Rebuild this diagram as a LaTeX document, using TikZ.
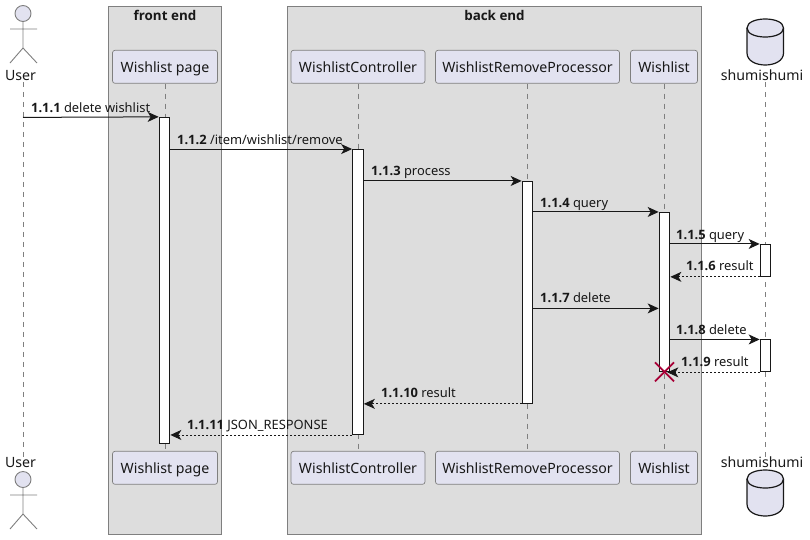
\documentclass[tikz,border=0pt]{standalone}
\usepackage{fontspec}
\setmainfont{Noto Sans}
\newfontfamily\boldfam{Open Sans}
\usetikzlibrary{arrows.meta}
\definecolor{partfill}{HTML}{E2E2F0}
\definecolor{boxfill}{HTML}{DDDDDD}
\definecolor{edgegray}{HTML}{7F7F7F}
\definecolor{inkdark}{HTML}{181818}
\definecolor{crossred}{HTML}{A80036}
\newcommand{\msgnum}[1]{{\boldfam\bfseries #1}}
\begin{document}
\begin{tikzpicture}[x=1pt,y=-1pt]
    \tikzstyle{groupbox} = [rectangle, draw=edgegray, fill=boxfill, line width=.9pt, inner sep=0pt]
    \tikzstyle{grouptitle} = [font=\fontsize{13.4}{15}\selectfont\boldfam\bfseries, text=inkdark, inner sep=0pt]
    \tikzstyle{partbox} = [rectangle, rounded corners=2.5pt, draw=edgegray, fill=partfill, line width=.7pt, font=\fontsize{14.15}{17}\selectfont, text=inkdark, minimum height=33pt, inner sep=0pt, text height=14pt, text depth=3pt]
    \tikzstyle{partname} = [font=\fontsize{14.15}{17}\selectfont, text=inkdark, inner sep=0pt]
    \tikzstyle{lifeline} = [draw=edgegray, line width=.7pt, dash pattern=on 5pt off 5pt]
    \tikzstyle{actbar} = [rectangle, draw=inkdark, fill=white, line width=.9pt, minimum width=10.8pt, inner sep=0pt]
    \tikzstyle{msgline} = [-{Stealth[length=11pt,width=10pt,inset=3pt]}, draw=inkdark, line width=1pt]
    \tikzstyle{retline} = [msgline, line width=.9pt, dash pattern=on 2pt off 2pt]
    \tikzstyle{msglabel} = [font=\fontsize{12.9}{15}\selectfont, text=inkdark, inner sep=0pt, anchor=base west]
    \tikzstyle{actorline} = [draw=edgegray, line width=.9pt]
    \tikzstyle{dbline} = [draw=inkdark, fill=partfill, line width=1.2pt]
    \useasboundingbox (0,0) rectangle (810,539);
    % groups
    \node[groupbox,minimum width=113pt,minimum height=528pt] (front) at (165,270.5) {};
    \node[groupbox,minimum width=414pt,minimum height=528pt] (back) at (494.5,270.5) {};
    \node[grouptitle] (fronttitle) at (165,15.5) {front end};
    \node[grouptitle] (backtitle) at (494.5,15.5) {back end};
    % participants
    \node[partname] (user) at (20.5,75.5) {User};
    \node[partname] (userb) at (20.5,462.5) {User};
    \node[partbox,minimum width=105pt] (page) at (165,66.8) {Wishlist page};
    \node[partbox,minimum width=105pt] (pageb) at (165,467.8) {Wishlist page};
    \node[partbox,minimum width=134pt] (ctrl) at (358,66.8) {WishlistController};
    \node[partbox,minimum width=134pt] (ctrlb) at (358,467.8) {WishlistController};
    \node[partbox,minimum width=184pt] (proc) at (527.5,66.8) {WishlistRemoveProcessor};
    \node[partbox,minimum width=184pt] (procb) at (527.5,467.8) {WishlistRemoveProcessor};
    \node[partbox,minimum width=67pt] (wish) at (664,66.8) {Wishlist};
    \node[partbox,minimum width=67pt] (wishb) at (664,467.8) {Wishlist};
    \node[partname] (shumi) at (762,75.5) {shumishumi};
    \node[partname] (shumib) at (762,462.5) {shumishumi};
    % actors
    \foreach \yy in {0,466} {
        \draw[actorline,fill=partfill] (23,13.5+\yy) circle (8pt);
        \draw[actorline] (23,21.5+\yy) -- (23,48+\yy) (10,29+\yy) -- (37,29+\yy)
            (10,63+\yy) -- (23,48+\yy) -- (37,63+\yy);
    }
    % databases
    \foreach \yy in {0,451} {
        \draw[dbline] (747,28+\yy) .. controls (747,16+\yy) and (783.5,16+\yy) .. (783.5,28+\yy)
            -- (783.5,53+\yy) .. controls (783.5,69+\yy) and (747,69+\yy) .. (747,53+\yy) -- cycle;
        \draw[dbline,fill=none] (747,28+\yy) .. controls (747,40+\yy) and (783.5,40+\yy) .. (783.5,28+\yy);
    }
    \coordinate (userstart) at (23,117.4);
    \coordinate (shumiline) at (765.5,117.4);
    \coordinate (q7) at (527.5,308.4);
    % lifelines
    \draw[lifeline] (userstart |- user.south) ++(0,1) -- (userstart |- userb.north);
    \draw[lifeline] (page.south) -- (pageb.north);
    \draw[lifeline] (ctrl.south) -- (ctrlb.north);
    \draw[lifeline] (proc.south) -- (procb.north);
    \draw[lifeline] (wish.south) -- (wishb.north);
    \draw[lifeline] (shumiline |- shumi.south) ++(0,1) -- (shumiline |- shumib.north);
    % activations
    \node[actbar,minimum height=326.4pt] (pagebar) at (164.5,280.5) {};
    \node[actbar,minimum height=285pt] (ctrlbar) at (358,292) {};
    \node[actbar,minimum height=222pt] (procbar) at (527.5,292.4) {};
    \node[actbar,minimum height=159pt] (wishbar) at (664.5,291.9) {};
    \node[actbar,minimum height=32pt] (shumibar) at (765.5,260.4) {};
    \node[actbar,minimum height=32pt] (shumibarb) at (765.5,355.9) {};
    % messages
    \draw[msgline] (userstart) -- (pagebar.north west);
    \draw[msgline] (pagebar.east |- ctrlbar.north) -- (ctrlbar.north west);
    \draw[msgline] (ctrlbar.east |- procbar.north) -- (procbar.north west);
    \draw[msgline] (procbar.east |- wishbar.north) -- (wishbar.north west);
    \draw[msgline] (wishbar.east |- shumibar.north) -- (shumibar.north west);
    \draw[retline] (shumibar.south west) -- (wishbar.east |- shumibar.south);
    \draw[msgline] (procbar.east |- q7) -- (wishbar.west |- q7);
    \draw[msgline] (wishbar.east |- shumibarb.north) -- (shumibarb.north west);
    \draw[retline] (shumibarb.south west) -- ([xshift=-3pt]wishbar.east |- shumibarb.south);
    \draw[retline] (procbar.south west) -- (ctrlbar.east |- procbar.south);
    \draw[retline] (ctrlbar.south west) -- (pagebar.east |- ctrlbar.south);
    % labels
    \node[msglabel] (m1) at (31,112) {\msgnum{1.1.1} delete wishlist};
    \node[msglabel] (m2) at (177,144) {\msgnum{1.1.2} /item/wishlist/remove};
    \node[msglabel] (m3) at (371,175) {\msgnum{1.1.3} process};
    \node[msglabel] (m4) at (540,207) {\msgnum{1.1.4} query};
    \node[msglabel] (m5) at (676,239) {\msgnum{1.1.5} query};
    \node[msglabel] (m6) at (686,270) {\msgnum{1.1.6} result};
    \node[msglabel] (m7) at (540,302) {\msgnum{1.1.7} delete};
    \node[msglabel] (m8) at (676,334) {\msgnum{1.1.8} delete};
    \node[msglabel] (m9) at (681,366) {\msgnum{1.1.9} result};
    \node[msglabel] (m10) at (381,397) {\msgnum{1.1.10} result};
    \node[msglabel] (m11) at (187,429) {\msgnum{1.1.11} JSON\_RESPONSE};
    % destroy mark
    \coordinate (wishend) at (wishbar.south);
    \draw[crossred,line width=1.9pt] ([shift={(-9.5,-9.5)}]wishend) -- ([shift={(9.5,9.5)}]wishend)
        ([shift={(-9.5,9.5)}]wishend) -- ([shift={(9.5,-9.5)}]wishend);
\end{tikzpicture}
\end{document}
